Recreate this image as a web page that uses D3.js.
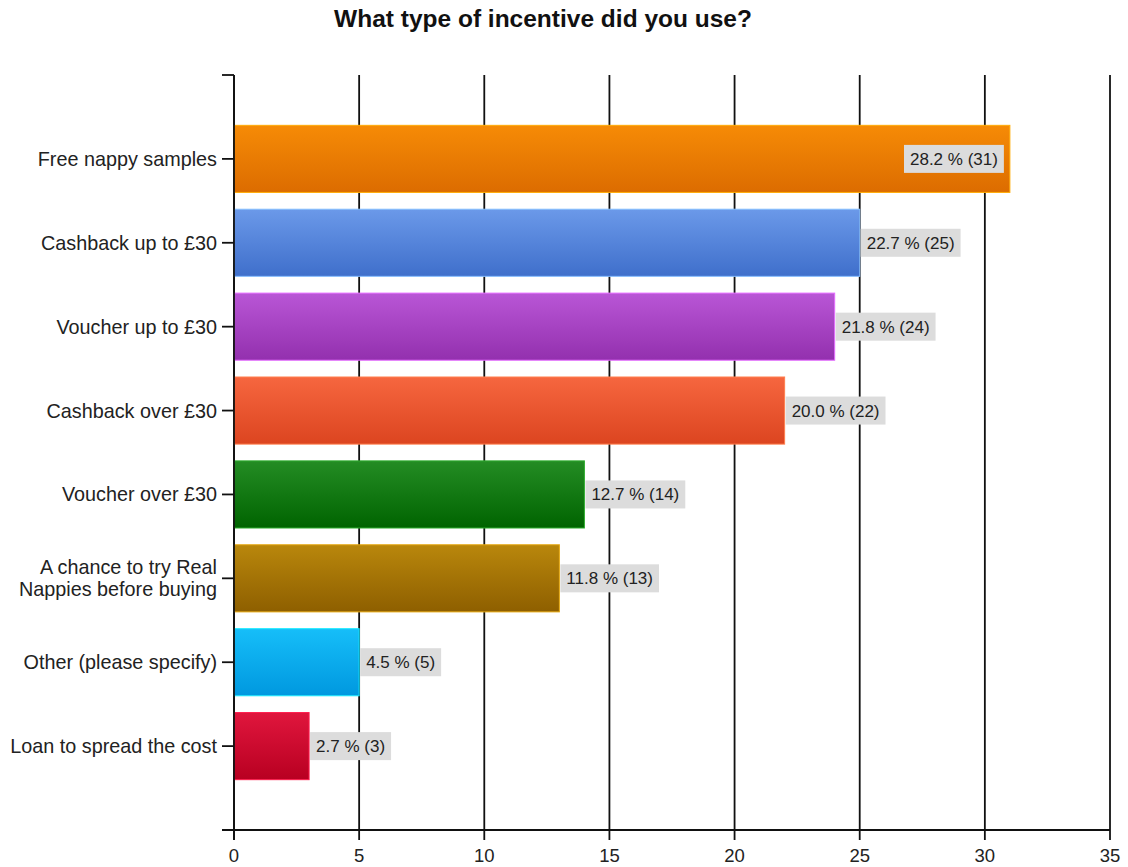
<!DOCTYPE html>
<html>
<head>
<meta charset="utf-8">
<script src="https://cdn.jsdelivr.net/npm/d3@7"></script>
<style>
  html, body { margin: 0; padding: 0; background: #fff; }
  svg { display: block; }
</style>
</head>
<body>
<svg id="chart" width="1128" height="867"></svg>
<script>
// Survey responses: incentive types used
const categories = [
  "Free nappy samples",
  "Cashback up to £30",
  "Voucher up to £30",
  "Cashback over £30",
  "Voucher over £30",
  "A chance to try Real\nNappies before buying",
  "Other (please specify)",
  "Loan to spread the cost"
];
const counts = [31, 25, 24, 22, 14, 13, 5, 3];
const percents = ["28.2", "22.7", "21.8", "20.0", "12.7", "11.8", "4.5", "2.7"];
const xTicks = [0, 5, 10, 15, 20, 25, 30, 35];
const topColors = ["#f68b06", "#6b99e9", "#b956d6", "#f6663f", "#248c24", "#b9870c", "#16bef9", "#e0163d"];
const bottomColors = ["#dc6c00", "#3f6fcb", "#9330ae", "#dc4520", "#006400", "#8e5f00", "#0098df", "#b80021"];

const svg = d3.select("#chart");
const font = "'Liberation Sans', Arial, sans-serif";

const plotLeft = 234, plotRight = 1110, plotTop = 75, plotBottom = 830;
const x = d3.scaleLinear().domain([0, 35]).range([plotLeft, plotRight]);
const y = d3.scaleLinear().domain([0, categories.length + 1]).range([plotTop, plotBottom]);
const band = y(1) - y(0);
const barH = band * 0.8;

// vertical gradients for the bars
const defs = svg.append("defs");
categories.forEach((c, i) => {
  const g = defs.append("linearGradient")
    .attr("id", "grad" + i).attr("x1", 0).attr("y1", 0).attr("x2", 0).attr("y2", 1);
  g.append("stop").attr("offset", "0%").attr("stop-color", topColors[i]);
  g.append("stop").attr("offset", "100%").attr("stop-color", bottomColors[i]);
});

// title
svg.append("text")
  .attr("x", 543).attr("y", 27)
  .attr("text-anchor", "middle")
  .attr("font-family", font).attr("font-weight", "bold").attr("font-size", 24.5)
  .attr("fill", "#111")
  .text("What type of incentive did you use?");

// vertical gridlines with ticks below the axis
svg.append("g").selectAll("line").data(xTicks).join("line")
  .attr("x1", d => x(d)).attr("x2", d => x(d))
  .attr("y1", plotTop).attr("y2", plotBottom + 10)
  .attr("stroke", "#111").attr("stroke-width", 1.8);

// x axis line
svg.append("line")
  .attr("x1", plotLeft - 12).attr("x2", plotRight)
  .attr("y1", plotBottom).attr("y2", plotBottom)
  .attr("stroke", "#111").attr("stroke-width", 1.8);

// y axis top tick
svg.append("line")
  .attr("x1", plotLeft - 12).attr("x2", plotLeft)
  .attr("y1", plotTop).attr("y2", plotTop)
  .attr("stroke", "#111").attr("stroke-width", 1.8);

// x tick labels
svg.append("g").selectAll("text").data(xTicks).join("text")
  .attr("x", d => x(d)).attr("y", plotBottom + 32)
  .attr("text-anchor", "middle")
  .attr("font-family", font).attr("font-size", 18.5).attr("fill", "#222")
  .text(d => d);

// bars
svg.append("g").selectAll("rect").data(counts).join("rect")
  .attr("x", x(0))
  .attr("y", (d, i) => y(i + 1) - barH / 2)
  .attr("width", d => x(d) - x(0))
  .attr("height", barH)
  .attr("fill", (d, i) => `url(#grad${i})`)
  .attr("stroke", (d, i) => d3.color(topColors[i]).brighter(0.6))
  .attr("stroke-width", 1);

// category ticks and labels
const catG = svg.append("g");
categories.forEach((c, i) => {
  const cy = y(i + 1);
  catG.append("line")
    .attr("x1", plotLeft - 12).attr("x2", plotLeft)
    .attr("y1", cy).attr("y2", cy)
    .attr("stroke", "#111").attr("stroke-width", 1.8);
  const lines = c.split("\n");
  const lh = 22;
  const t = catG.append("text")
    .attr("text-anchor", "end")
    .attr("font-family", font).attr("font-size", 19.8).attr("fill", "#222");
  lines.forEach((ln, j) => {
    t.append("tspan")
      .attr("x", plotLeft - 17)
      .attr("y", cy + 7 + (j - (lines.length - 1) / 2) * lh)
      .text(ln);
  });
});

// y axis line
svg.append("line")
  .attr("x1", plotLeft).attr("x2", plotLeft)
  .attr("y1", plotTop).attr("y2", plotBottom + 10)
  .attr("stroke", "#111").attr("stroke-width", 1.8);

// value labels: grey boxes beside the bar end, or inside when there is no room
const lblG = svg.append("g");
counts.forEach((v, i) => {
  const cy = y(i + 1);
  const g = lblG.append("g");
  const txt = g.append("text")
    .attr("font-family", font).attr("font-size", 17).attr("fill", "#222")
    .attr("y", cy + 6)
    .text(`${percents[i]} % (${v})`);
  const w = txt.node().getComputedTextLength();
  const boxW = w + 12;
  const boxH = 28;
  let bx = x(v) + 1;
  if (bx + boxW > plotRight - 20) bx = x(v) - boxW - 6;
  g.insert("rect", "text")
    .attr("x", bx).attr("y", cy - boxH / 2)
    .attr("width", boxW).attr("height", boxH)
    .attr("fill", "#dcdcdc");
  txt.attr("x", bx + 6);
});
</script>
</body>
</html>
